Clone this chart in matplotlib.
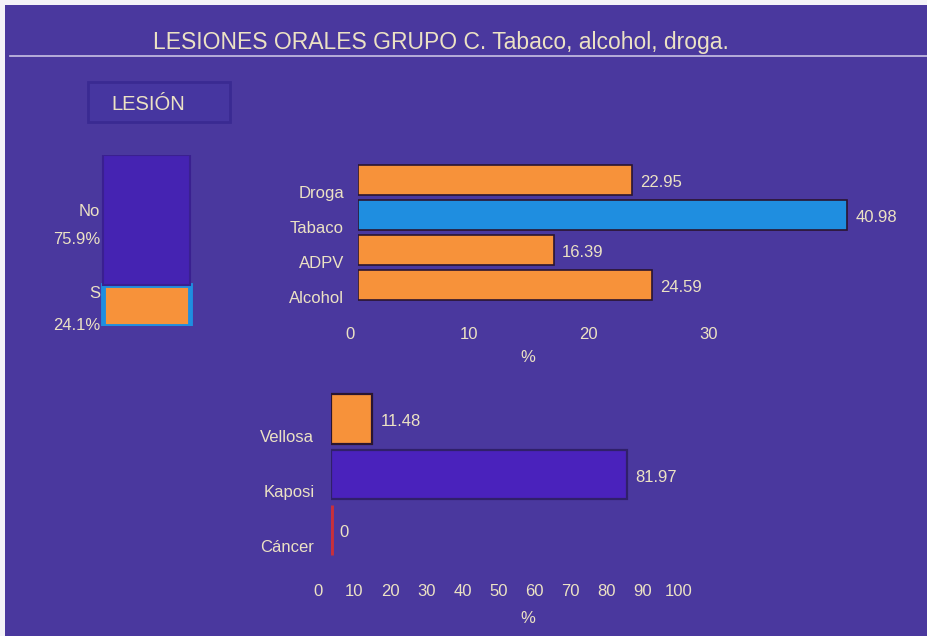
import matplotlib
matplotlib.use("Agg")
import matplotlib.pyplot as plt
from matplotlib.patches import Rectangle
from matplotlib.transforms import ScaledTranslation
from matplotlib.lines import Line2D

# ---- data ----
title = "LESIONES ORALES GRUPO C. Tabaco, alcohol, droga."
lesion_labels = ["No", "S"]
lesion_pct = [75.9, 24.1]

habit_cats = ["Droga", "Tabaco", "ADPV", "Alcohol"]
habit_vals = [22.95, 40.98, 16.39, 24.59]
habit_ticks = [0, 10, 20, 30]

type_cats = ["Vellosa", "Kaposi", "Cáncer"]
type_vals = [11.48, 81.97, 0]
type_ticks = [0, 10, 20, 30, 40, 50, 60, 70, 80, 90, 100]

# ---- style ----
W, H = 927, 636
BG = "#4a389e"
TXT = "#ece2c4"
ORANGE = "#f7923a"
BLUE = "#1f8ee0"
PURPLE = "#4a22bc"
RED = "#c8303c"
EDGE = "#2a1530"
FS = 12

plt.rcParams["font.family"] = ["Liberation Sans", "DejaVu Sans"]

fig = plt.figure(figsize=(W / 100, H / 100), dpi=100)
fig.patch.set_facecolor(BG)


def px_axes(left, top, right, bottom):
    return fig.add_axes([left / W, 1 - bottom / H, (right - left) / W, (bottom - top) / H])


def fx(x):
    return x / W


def fy(y):
    return 1 - y / H


# white paper margin on the left and top
fig.patches.append(Rectangle((0, 0), fx(5), 1, transform=fig.transFigure,
                             facecolor="#f4f2f8", edgecolor="none", zorder=0))
fig.patches.append(Rectangle((0, fy(5)), 1, fy(0) - fy(5), transform=fig.transFigure,
                             facecolor="#f4f2f8", edgecolor="none", zorder=0))

# title and rule underneath
fig.text(fx(441), fy(42), title, ha="center", va="center", fontsize=16.5, color=TXT)
fig.lines.append(Line2D([fx(10), fx(927)], [fy(56), fy(56)], transform=fig.transFigure,
                        color="#c9c2e4", linewidth=1.2))

# "LESIÓN" box
fig.patches.append(Rectangle((fx(88), fy(122)), fx(230) - fx(88), fy(82) - fy(122),
                             transform=fig.transFigure, facecolor="#4636a0",
                             edgecolor="#3a2a92", linewidth=2))
fig.text(fx(111), fy(104), "LESIÓN", ha="left", va="center", fontsize=14.5, color=TXT)

# ---- stacked lesion bar ----
axl = px_axes(95, 155, 198, 326)
axl.set_facecolor("none")
axl.bar([0], [lesion_pct[1]], width=0.84, color=ORANGE, edgecolor=BLUE, linewidth=3.5)
axl.bar([0], [lesion_pct[0]], bottom=[lesion_pct[1]], width=0.84, color="#4523b2",
        edgecolor="#3a2090", linewidth=1.5)
axl.set_xlim(-0.5, 0.5)
axl.set_ylim(0, 100)
axl.axis("off")
fig.text(fx(100), fy(212), lesion_labels[0], ha="right", va="center", fontsize=FS, color=TXT)
fig.text(fx(100), fy(240), f"{lesion_pct[0]:.1f}%", ha="right", va="center", fontsize=FS, color=TXT)
fig.text(fx(100), fy(293), lesion_labels[1], ha="right", va="center", fontsize=FS, color=TXT)
fig.text(fx(100), fy(325), f"{lesion_pct[1]:.1f}%", ha="right", va="center", fontsize=FS, color=TXT)


def style_axes(ax, dx_px):
    ax.set_facecolor("none")
    for s in ax.spines.values():
        s.set_visible(False)
    ax.tick_params(axis="both", length=0, colors=TXT, labelsize=FS)
    off = ScaledTranslation(dx_px / 100, 0, fig.dpi_scale_trans)
    for lab in ax.get_xticklabels():
        lab.set_transform(lab.get_transform() + off)


# ---- habits chart ----
ax1 = px_axes(358, 159, 919, 306)
ypos1 = list(range(len(habit_cats) - 1, -1, -1))
colors1 = [ORANGE, BLUE, ORANGE, ORANGE]
ax1.barh(ypos1, habit_vals, height=0.88, color=colors1, edgecolor=EDGE, linewidth=1.2)
ax1.set_xlim(0, 47)
ax1.set_ylim(-0.6, 3.6)
ax1.set_xticks(habit_ticks)
ax1.set_xticklabels([str(t) for t in habit_ticks])
ax1.set_yticks([y - 0.35 for y in ypos1])
ax1.set_yticklabels(habit_cats)
ax1.tick_params(axis="x", pad=15)
ax1.tick_params(axis="y", pad=10)
style_axes(ax1, -8)
ax1.set_xlabel("%", color=TXT, fontsize=FS)
ax1.xaxis.set_label_coords((528 - 358) / (919 - 358), -0.30)
for y, v in zip(ypos1, habit_vals):
    ax1.annotate(f"{v:.2f}", (v, y - 0.08), xytext=(6, 0), textcoords="offset points",
                 ha="left", va="center", fontsize=FS, color=TXT)

# ---- lesion type chart ----
ax2 = px_axes(331, 386, 710, 563)
ypos2 = list(range(len(type_cats) - 1, -1, -1))
colors2 = [ORANGE, PURPLE, RED]
edges2 = [EDGE, "#30206a", RED]
widths2 = [1.6, 1.6, 3.5]
ax2.barh(ypos2, type_vals, height=0.9, color=colors2, edgecolor=edges2, linewidth=widths2)
ax2.set_xlim(0, 105)
ax2.set_ylim(-0.6, 2.6)
ax2.set_xticks(type_ticks)
ax2.set_xticklabels([str(t) for t in type_ticks])
ax2.set_yticks([y - 0.3 for y in ypos2])
ax2.set_yticklabels(type_cats)
ax2.tick_params(axis="x", pad=15)
ax2.tick_params(axis="y", pad=12)
style_axes(ax2, -13)
ax2.set_xlabel("%", color=TXT, fontsize=FS)
ax2.xaxis.set_label_coords((528 - 331) / (710 - 331), -0.27)
for y, v in zip(ypos2, type_vals):
    ax2.annotate(f"{v:.2f}" if v else "0", (v, y - 0.05), xytext=(6, 0),
                 textcoords="offset points", ha="left", va="center", fontsize=FS, color=TXT)

fig.savefig("out.png", dpi=100, facecolor=BG)
